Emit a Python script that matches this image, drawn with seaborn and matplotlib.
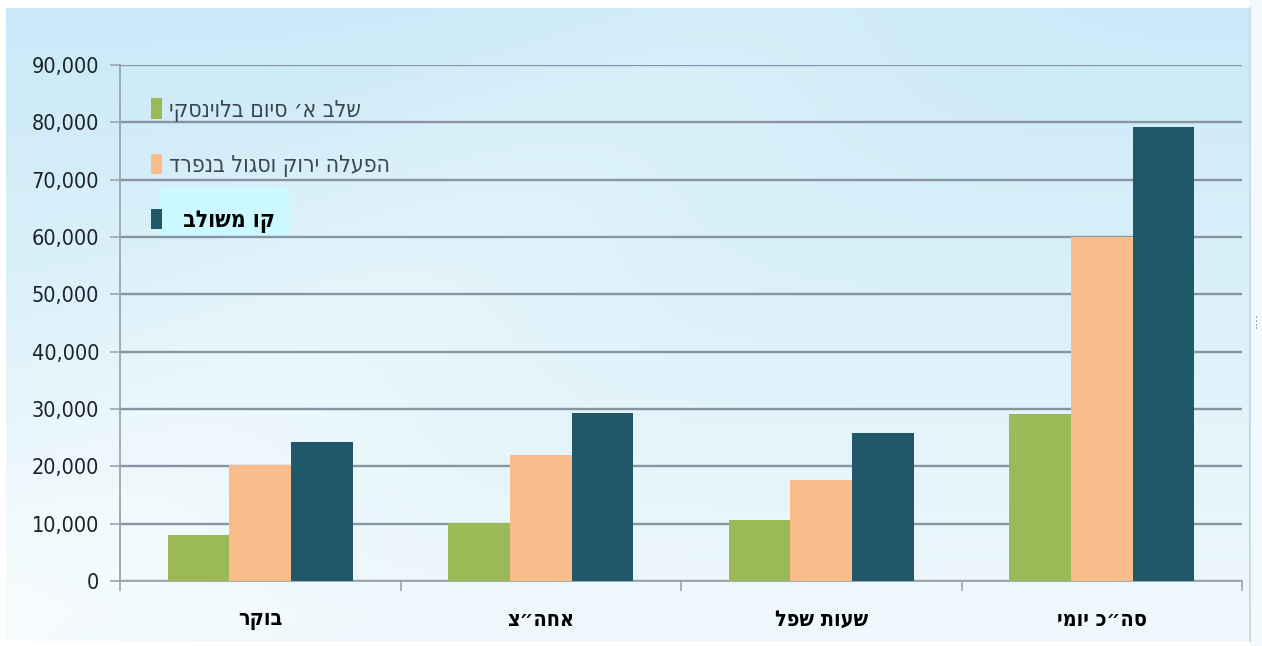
import numpy as np
import pandas as pd
import matplotlib
matplotlib.use("Agg")
import matplotlib.pyplot as plt
from matplotlib.patches import Patch, Rectangle
from matplotlib.ticker import FuncFormatter, FixedLocator
import seaborn as sns

# ---- data -------------------------------------------------------------
categories = ["בוקר", "אחה״צ", "שעות שפל", "סה״כ יומי"]
series = ["שלב א׳ סיום בלוינסקי", "הפעלה ירוק וסגול בנפרד", "קו משולב"]
stage_a = [8100, 10200, 10600, 29100]
separate_lines = [20300, 21900, 17700, 60000]
combined_line = [24200, 29300, 25900, 79100]
y_ticks = [0, 10000, 20000, 30000, 40000, 50000, 60000, 70000, 80000, 90000]

colors = ["#9bba57", "#f9bd8b", "#1f5868"]


def rtl(text):
    """matplotlib lays glyphs out left-to-right, so Hebrew is reversed for display."""
    return text[::-1]


df = pd.DataFrame({
    "period": categories * 3,
    "line": [series[0]] * 4 + [series[1]] * 4 + [series[2]] * 4,
    "riders": stage_a + separate_lines + combined_line,
})

sns.set_theme(style="white")
plt.rcParams["font.family"] = ["DejaVu Sans"]

W, H = 1262, 646
fig = plt.figure(figsize=(W / 100, H / 100), dpi=100)
fig.patch.set_facecolor("white")

# ---- slide-like background ---------------------------------------------
bg = fig.add_axes([0, 0, 1, 1], zorder=-10)
yy, xx = np.mgrid[0:H:160j, 0:W:320j]
top = np.array([0.79, 0.915, 0.97])
bottom = np.array([0.935, 0.975, 0.99])
t = np.clip(yy / H * 1.05, 0, 1)[..., None]
img = top * (1 - t) + bottom * t
# broad, soft diagonal light band running from the top centre to the lower left
d = (xx + 1.3 * yy - 760) / 260.0
band = np.exp(-d ** 2) * 0.035
img = np.clip(img + band[..., None] * np.array([1.0, 0.45, 0.15]), 0, 1)
bg.imshow(img, extent=[0, W, 0, H], aspect="auto", origin="upper",
          interpolation="bilinear")
bg.set_xlim(0, W)
bg.set_ylim(0, H)
bg.axis("off")
# white frame and right-hand panel edge
bg.add_patch(Rectangle((0, H - 8), W, 8, color="white", lw=0))
bg.add_patch(Rectangle((0, 0), 6, H, color="white", lw=0))
bg.add_patch(Rectangle((0, 0), W, 5, color="white", lw=0))
bg.add_patch(Rectangle((1250, 0), 12, H, color="#f2fafd", lw=0))
bg.plot([1250, 1250], [5, H - 8], color="#c9dde6", lw=1.5)
bg.text(1257, 326, "····", rotation=90, ha="center", va="center",
        fontsize=9, color="#5f6f78")
# highlight panel behind the third legend entry
bg.add_patch(Rectangle((160, H - 235), 130, 48, color="#ccf8ff", lw=0))

# ---- bar chart -----------------------------------------------------------
ax = fig.add_axes([120 / W, 65 / H, (1242 - 120) / W, (581 - 65) / H])
ax.set_facecolor("none")
sns.barplot(data=df, x="period", y="riders", hue="line",
            order=categories, hue_order=series, palette=colors,
            width=0.66, saturation=1, errorbar=None, linewidth=0,
            legend=False, ax=ax, zorder=3)

ax.set_xlim(-0.5, 3.5)
ax.set_ylim(0, 90000)
ax.yaxis.set_major_locator(FixedLocator(y_ticks))
ax.yaxis.set_major_formatter(FuncFormatter(lambda v, p: f"{int(v):,}"))
ax.grid(axis="y", color="#8695a1", linewidth=1.7, zorder=1)
ax.set_axisbelow(True)

for side in ("top", "right"):
    ax.spines[side].set_visible(False)
for side in ("left", "bottom"):
    ax.spines[side].set_color("#9aa6ae")
    ax.spines[side].set_linewidth(1.3)

ax.set_xticks(range(len(categories)))
ax.set_xticklabels([rtl(c) for c in categories], fontsize=15.5,
                   fontweight="bold", fontstretch="condensed", color="black")
ax.tick_params(axis="x", which="major", length=0, pad=21)
ax.set_xticks(np.arange(-0.5, len(categories), 1.0), minor=True)
ax.tick_params(axis="x", which="minor", length=7, width=1.2,
               color="#9aa6ae", direction="out", bottom=True)
ax.tick_params(axis="y", length=7, width=1.2, color="#9aa6ae",
               direction="out", left=True, pad=8,
               labelsize=15.5, labelcolor="#1c2328")
for lab in ax.get_yticklabels():
    lab.set_fontstretch("condensed")
ax.set_xlabel("")
ax.set_ylabel("")

# ---- legend ----------------------------------------------------------------
handles = [Patch(facecolor=c, edgecolor="none") for c in colors]
labels = [rtl(s) for s in series]
labels[-1] = "  " + labels[-1]
leg = ax.legend(handles, labels,
                loc="upper left", bbox_to_anchor=(140 / W, 1 - 87 / H),
                bbox_transform=fig.transFigure, frameon=False,
                prop=dict(size=16.5, stretch="condensed"),
                labelspacing=1.4, handlelength=0.48,
                handleheight=1.0, handletextpad=0.3, borderpad=0)
for txt in leg.get_texts():
    txt.set_color("#3a454d")
last = leg.get_texts()[-1]
last.set_color("black")
last.set_fontweight("bold")

fig.savefig("out.png", dpi=100)
